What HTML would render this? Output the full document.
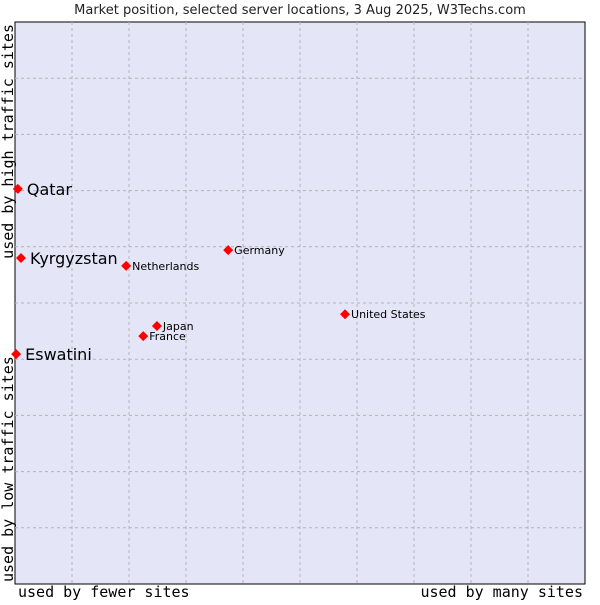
<!DOCTYPE html>
<html><head><meta charset="utf-8"><style>
body{margin:0;background:#fff;}
svg text{font-family:"DejaVu Sans","Liberation Sans",sans-serif;}
.mono{font-family:"DejaVu Sans Mono","Liberation Mono",monospace;}
</style></head><body>
<svg id="chart" width="600" height="600" xmlns="http://www.w3.org/2000/svg">
<text x="300" y="14" font-size="13" text-anchor="middle" fill="#222">Market position, selected server locations, 3 Aug 2025, W3Techs.com</text>
<rect x="15" y="22" width="570" height="562" fill="#e4e6f8" stroke="#000" stroke-width="1"/>
<g id="grid"></g>
<g id="points"></g>
<text class="mono" x="18" y="597" font-size="15" fill="#000">used by fewer sites</text>
<text class="mono" x="583" y="597" font-size="15" text-anchor="end" fill="#000">used by many sites</text>
<text class="mono" transform="translate(13,24) rotate(-90)" font-size="15" text-anchor="end" fill="#000">used by high traffic sites</text>
<text class="mono" transform="translate(13,582) rotate(-90)" font-size="15" fill="#000">used by low traffic sites</text>
</svg>
<script>
const names=["Qatar","Kyrgyzstan","Eswatini","Netherlands","Germany","United States","Japan","France"];
const xVals=[0.5,1.05,0.2,19.5,37.4,57.9,24.9,22.5];
const yVals=[70.3,58.0,40.9,56.6,59.4,48.0,45.9,44.1];
const bigLabel=[true,true,true,false,false,false,false,false];
const L=15,T=22,W=570,H=562;
const sx=v=>L+v/100*W, sy=v=>T+H-v/100*H;
const NS="http://www.w3.org/2000/svg";
const grid=document.getElementById('grid');
for(let i=1;i<10;i++){
  const v=document.createElementNS(NS,'line');
  
  
  v.setAttribute('x1',sx(i*10));v.setAttribute('x2',sx(i*10));v.setAttribute('y1',T);v.setAttribute('y2',T+H);
  v.setAttribute('stroke','#b4b4b4');v.setAttribute('stroke-dasharray','3,3');grid.appendChild(v);
  const h=document.createElementNS(NS,'line');
  
  
  h.setAttribute('y1',sy(i*10));h.setAttribute('y2',sy(i*10));h.setAttribute('x1',L);h.setAttribute('x2',L+W);
  h.setAttribute('stroke','#b4b4b4');h.setAttribute('stroke-dasharray','3,3');grid.appendChild(h);
}
const pts=document.getElementById('points');
names.forEach((n,i)=>{
  const x=sx(xVals[i]),y=sy(yVals[i]);
  const m=document.createElementNS(NS,'polygon');
  
  
  m.setAttribute('points',`${x},${y-5} ${x+5},${y} ${x},${y+5} ${x-5},${y}`);
  m.setAttribute('fill','#f00');pts.appendChild(m);
  const t=document.createElementNS(NS,'text');
  
  
  const big=bigLabel[i];
  t.setAttribute('x',x+(big?9:6));t.setAttribute('y',y+(big?6:4));
  t.setAttribute('font-size',big?16:11);t.setAttribute('fill','#000');
  t.textContent=n;pts.appendChild(t);
});
</script>
</body></html>
